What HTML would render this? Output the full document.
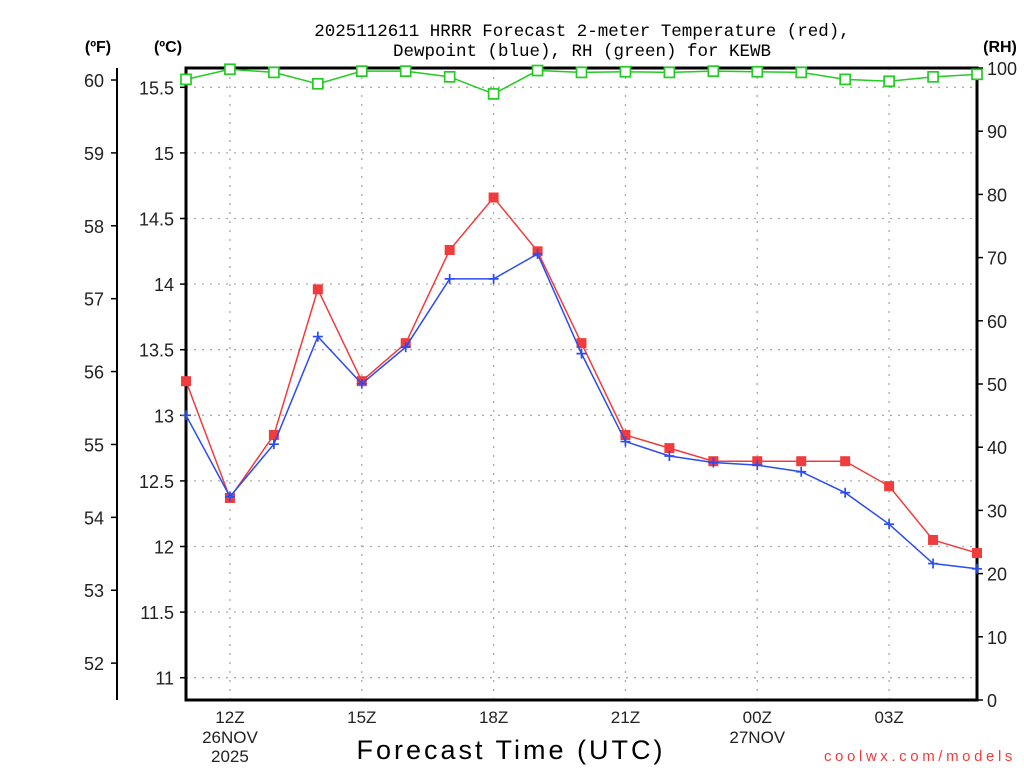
<!DOCTYPE html>
<html><head><meta charset="utf-8"><style>
html,body{margin:0;padding:0;background:#fff;}
svg{display:block;font-family:"Liberation Sans","DejaVu Sans",sans-serif;}
</style></head><body>
<svg id="chart" width="1024" height="768" viewBox="0 0 1024 768" xmlns="http://www.w3.org/2000/svg">
<g font-family="Liberation Mono, monospace">
<text x="582" y="36" font-size="17.5" text-anchor="middle" fill="#000">2025112611 HRRR Forecast 2-meter Temperature (red),</text>
<text x="582" y="56" font-size="17.5" text-anchor="middle" fill="#000">Dewpoint (blue), RH (green) for KEWB</text>
</g>
<text x="98" y="52" font-size="16" font-weight="bold" text-anchor="middle">(ºF)</text>
<text x="168" y="52" font-size="16" font-weight="bold" text-anchor="middle">(ºC)</text>
<text x="1000" y="52" font-size="16" font-weight="bold" text-anchor="middle">(RH)</text>
<text x="511" y="759" font-size="27" text-anchor="middle" letter-spacing="3">Forecast Time (UTC)</text>
<text x="920" y="761" font-size="15" text-anchor="middle" fill="#f03c3c" letter-spacing="3.6">coolwx.com/models</text>
<g id="grid"></g>
<g id="axes"></g>
<g id="series"></g>
</svg>
<script>
const hours = [11,12,13,14,15,16,17,18,19,20,21,22,23,0,1,2,3,4,5];
const tempC = [13.26,12.37,12.85,13.96,13.26,13.55,14.26,14.66,14.25,13.55,12.85,12.75,12.65,12.65,12.65,12.65,12.46,12.05,11.95];
const dewC = [13.0,12.38,12.78,13.60,13.24,13.52,14.04,14.04,14.23,13.47,12.80,12.69,12.64,12.62,12.57,12.41,12.17,11.87,11.83];
const rh = [98.2,99.8,99.3,97.5,99.5,99.5,98.6,95.9,99.6,99.3,99.4,99.3,99.5,99.4,99.3,98.2,97.9,98.6,99.0];
const cTicks = [11,11.5,12,12.5,13,13.5,14,14.5,15,15.5];
const fTicks = [52,53,54,55,56,57,58,59,60];
const rhTicks = [0,10,20,30,40,50,60,70,80,90,100];
const xTickIdx = [1,4,7,10,13,16];
const xTickLabels = ["12Z","15Z","18Z","21Z","00Z","03Z"];
const xSub1 = ["26NOV","","","","27NOV",""];
const xSub2 = ["2025","","","","",""];

const L=186,R=977,T=68,B=700;
const NS="http://www.w3.org/2000/svg";
const xs = i => L + (R-L)*i/(hours.length-1);
const yC = c => 87.3 + (15.5-c)*131.2;
const yF = f => yC((f-32)*5/9);
const yRH = v => B - (B-T)*v/100;
function mk(tag, attrs, parent, text){
  const e=document.createElementNS(NS,tag);
  for(const k in attrs) e.setAttribute(k,attrs[k]);
  if(text!==undefined) e.textContent=text;
  parent.appendChild(e); return e;
}
const grid=document.getElementById('grid'), axes=document.getElementById('axes'), series=document.getElementById('series');

cTicks.forEach(c=>{
  const y=yC(c);
  const g=mk('line',{x1:L,x2:R,y1:y,y2:y,stroke:'#aaa','stroke-width':1.3,'stroke-dasharray':'2,6'},grid);
  
  
  mk('line',{x1:L-6,x2:L,y1:y,y2:y,stroke:'#000','stroke-width':1.5},axes);
  const t=mk('text',{x:L-12,y:y+7,'font-size':18,'text-anchor':'end',fill:'#222'},axes,String(c));
  
  
});
xTickIdx.forEach((i,k)=>{
  const x=xs(i);
  const g=mk('line',{x1:x,x2:x,y1:T,y2:B,stroke:'#aaa','stroke-width':1.3,'stroke-dasharray':'2,7'},grid);
  
  
  const t=mk('text',{x:x,y:723,'font-size':17,'text-anchor':'middle',fill:'#222'},axes,xTickLabels[k]);
  
  
  if(xSub1[k]) mk('text',{x:x,y:743,'font-size':17,'text-anchor':'middle',fill:'#222'},axes,xSub1[k]);
  if(xSub2[k]) mk('text',{x:x,y:762,'font-size':17,'text-anchor':'middle',fill:'#222'},axes,xSub2[k]);
});
const fl=mk('line',{x1:117,x2:117,y1:T,y2:B,stroke:'#000','stroke-width':2},axes);


fTicks.forEach(f=>{
  const y=yF(f);
  mk('line',{x1:111,x2:117,y1:y,y2:y,stroke:'#000','stroke-width':1.5},axes);
  const t=mk('text',{x:104,y:y+7,'font-size':18,'text-anchor':'end',fill:'#222'},axes,String(f));
  
  
});
rhTicks.forEach(v=>{
  const y=yRH(v);
  mk('line',{x1:R,x2:R+6,y1:y,y2:y,stroke:'#000','stroke-width':1.5},axes);
  const t=mk('text',{x:987,y:y+7,'font-size':18,'text-anchor':'start',fill:'#222'},axes,String(v));
  
  
});
const box=mk('rect',{x:L,y:T,width:R-L,height:B-T,fill:'none',stroke:'#000','stroke-width':3},axes);



function line(vals,yf,color,name){
  const p=mk('polyline',{points:vals.map((v,i)=>xs(i)+','+yf(v)).join(' '),fill:'none',stroke:color,'stroke-width':1.5},series);
  
  
}
line(rh,yRH,'#22cc22','rh-line');
rh.forEach((v,i)=>{
  const m=mk('rect',{x:xs(i)-5,y:yRH(v)-5,width:10,height:10,fill:'#fff',stroke:'#22cc22','stroke-width':1.7},series);
  
  
});
line(tempC,yC,'#f03c3c','temperature-line');
tempC.forEach((v,i)=>{
  const m=mk('rect',{x:xs(i)-5,y:yC(v)-5,width:10,height:10,fill:'#f03c3c'},series);
  
  
});
line(dewC,yC,'#2a4cf0','dewpoint-line');
dewC.forEach((v,i)=>{
  const x=xs(i),y=yC(v);
  const m=mk('path',{d:`M${x-5},${y}H${x+5}M${x},${y-5}V${y+5}`,stroke:'#2a4cf0','stroke-width':1.7},series);
  
  
});
</script>
</body></html>
